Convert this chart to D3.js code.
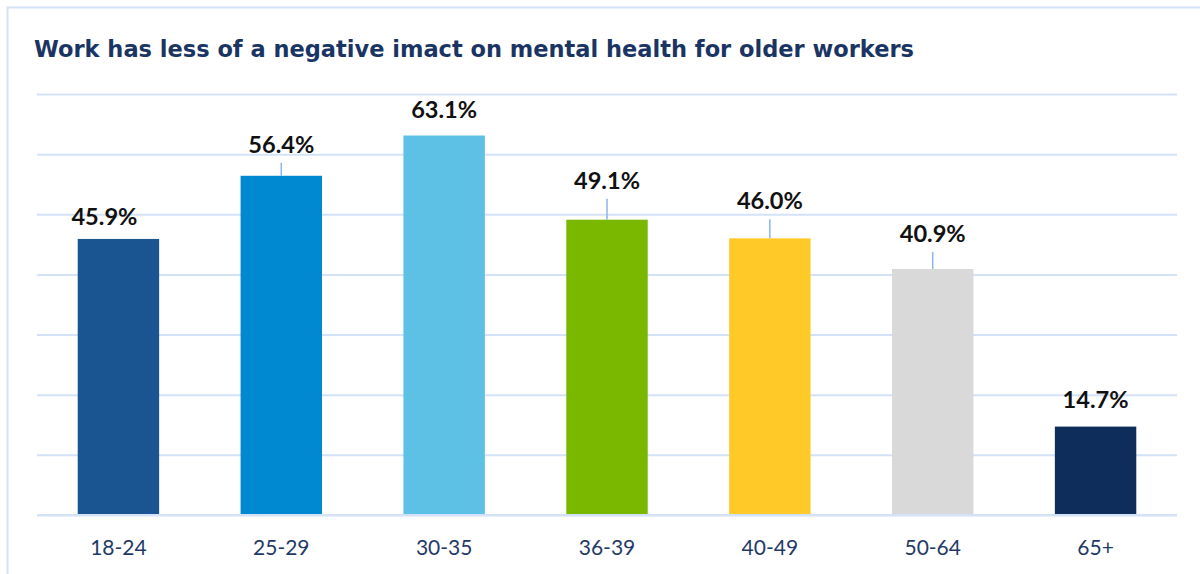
<!DOCTYPE html>
<html>
<head>
<meta charset="utf-8">
<script src="https://cdn.jsdelivr.net/npm/d3@7"></script>
<style>
  html, body { margin: 0; padding: 0; background: #ffffff; }
  svg { display: block; }
</style>
</head>
<body>
<svg id="chart" width="1200" height="574"></svg>
<script>
// ---- data ----
const title = "Work has less of a negative imact on mental health for older workers";
const categories = ["18-24", "25-29", "30-35", "36-39", "40-49", "50-64", "65+"];
const values = [45.9, 56.4, 63.1, 49.1, 46.0, 40.9, 14.7];
const barColors = ["#1b5591", "#0089d1", "#5dc1e6", "#7ab800", "#ffca28", "#d9d9d9", "#0e2d5a"];
const gridTicks = [0, 10, 20, 30, 40, 50, 60, 70];

// ---- layout ----
const W = 1200, H = 574;
const plot = { left: 37, right: 1177, top: 94, bottom: 515 };
const svg = d3.select("#chart");

function fitWidth(sel, target, base) {
  const len = sel.node().getComputedTextLength();
  sel.attr("font-size", base * target / len);
}

// frame
svg.append("rect").attr("x", 7.5).attr("y", 7.5).attr("width", W).attr("height", H)
  .attr("fill", "none").attr("stroke", "#d3e2f7").attr("stroke-width", 2);

const t = svg.append("text").attr("x", 34).attr("y", 57)
  .attr("font-family", "'DejaVu Sans', sans-serif").attr("font-weight", 700)
  .attr("font-size", 22).attr("fill", "#1a3563").text(title);
fitWidth(t, 880, 22);

const x = d3.scaleBand().domain(categories).range([plot.left, plot.right]).paddingInner(0.5).paddingOuter(0.25);
const y = d3.scaleLinear().domain([0, 70]).range([plot.bottom, plot.top]);

// gridlines via axis
const gridAxis = d3.axisLeft(y).tickValues(gridTicks).tickSize(-(plot.right - plot.left)).tickFormat("");
const g = svg.append("g").attr("transform", `translate(${plot.left},0)`).call(gridAxis);
g.select(".domain").remove();
g.selectAll(".tick line").attr("stroke", "#d3e2f7").attr("stroke-width", 2);

// bars
svg.selectAll("rect.bar").data(values).join("rect").attr("class", "bar")
  .attr("x", (d, i) => x(categories[i]))
  .attr("width", x.bandwidth())
  .attr("y", d => y(d))
  .attr("height", d => y(0) - y(d))
  .attr("fill", (d, i) => barColors[i]);

// baseline over bars
svg.append("line").attr("x1", plot.left).attr("x2", plot.right)
  .attr("y1", y(0)).attr("y2", y(0)).attr("stroke", "#d3e2f7").attr("stroke-width", 2);

// label placement (gap above bar top to text baseline), horizontal nudge
const labelGap = [14, 23, 17, 31, 29, 27, 19];
const labelDx = [-14, 0, 0, 0, 0, 0, 0];

values.forEach((v, i) => {
  const cx = x(categories[i]) + x.bandwidth() / 2;
  const top = y(v);
  const base = top - labelGap[i];
  if (labelGap[i] > 20) {
    svg.append("line").attr("x1", cx).attr("x2", cx)
      .attr("y1", base + 10).attr("y2", top)
      .attr("stroke", "#8ab4ea").attr("stroke-width", 1.5);
  }
  const lt = svg.append("text").attr("x", cx + labelDx[i]).attr("y", base)
    .attr("text-anchor", "middle")
    .attr("font-family", "Lato, 'Open Sans', sans-serif").attr("font-weight", 700)
    .attr("font-size", 20).attr("fill", "#111111")
    .text(v.toFixed(1) + "%");
  fitWidth(lt, 66, 20);
});

// category axis
const xAxis = d3.axisBottom(x).tickSize(0).tickPadding(0);
const xa = svg.append("g").attr("transform", `translate(0,${plot.bottom})`).call(xAxis);
xa.select(".domain").remove();
xa.selectAll("text").attr("y", 40).attr("dy", 0)
  .attr("font-family", "Lato, 'Open Sans', sans-serif").attr("font-size", 21)
  .attr("fill", "#1f3a68");
</script>
</body>
</html>
